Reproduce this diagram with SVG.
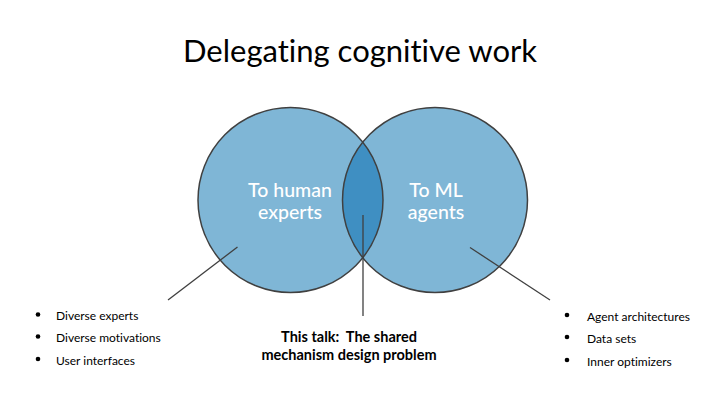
<svg xmlns="http://www.w3.org/2000/svg" width="720" height="405" viewBox="0 0 720 405">
<style>
text{font-variant-ligatures:none;font-feature-settings:"liga" 0,"dlig" 0}
.c{fill:#7fb6d6;stroke:none}
.o{fill:none;stroke:#404040;stroke-width:1.5}
.l{fill:#3f8fc2}
.ln{stroke:#404040;stroke-width:1.3;fill:none}
.w{font-family:Lato,"Open Sans",sans-serif;font-size:19.5px;fill:#fff;text-anchor:middle;font-weight:500}
.b{font-family:Lato,"Open Sans",sans-serif;font-size:12px;fill:#000}
.t{font-family:Lato,"Open Sans",sans-serif;font-size:14.5px;font-weight:bold;fill:#000;text-anchor:middle}
</style>
<rect width="720" height="405" fill="#fff"/>
<text x="360" y="62" font-family="Lato,'Open Sans',sans-serif" font-size="31" text-anchor="middle" fill="#000">Delegating cognitive work</text>
<g id="human">
<circle class="c" cx="290.5" cy="200" r="92.5"/>
</g>
<g id="ml">
<circle class="c" cx="435" cy="200" r="92.5"/>
</g>
<g id="shared">
<path class="l" d="M362.75 142.2 A92.5 92.5 0 0 1 362.75 257.8 A92.5 92.5 0 0 1 362.75 142.2Z"/>
</g>
<circle class="o" cx="290.5" cy="200" r="92.5"/>
<circle class="o" cx="435" cy="200" r="92.5"/>
<text class="w" x="290" y="197">To human</text>
<text class="w" x="290" y="219">experts</text>
<text class="w" x="436" y="197">To ML</text>
<text class="w" x="436" y="219">agents</text>
<g id="connectors">
<line class="ln" x1="237.5" y1="247" x2="168" y2="300"/>
<line class="ln" x1="470" y1="247.5" x2="550" y2="300"/>
<line class="ln" x1="363" y1="215" x2="363" y2="316"/>
</g>
<g id="left-list">
<circle cx="38" cy="314.5" r="2.3"/>
<circle cx="38" cy="336.5" r="2.3"/>
<circle cx="38" cy="359" r="2.3"/>
<text class="b" x="56" y="320">Diverse experts</text>
<text class="b" x="56" y="342">Diverse motivations</text>
<text class="b" x="56" y="365">User interfaces</text>
</g>
<g id="right-list">
<circle cx="567" cy="315" r="2.3"/>
<circle cx="567" cy="337" r="2.3"/>
<circle cx="567" cy="360" r="2.3"/>
<text class="b" x="587" y="321">Agent architectures</text>
<text class="b" x="587" y="343">Data sets</text>
<text class="b" x="587" y="366">Inner optimizers</text>
</g>
<g id="talk">
<text class="t" x="349" y="342">This talk:&#160; The shared</text>
<text class="t" x="349" y="360">mechanism design problem</text>
</g>
</svg>
